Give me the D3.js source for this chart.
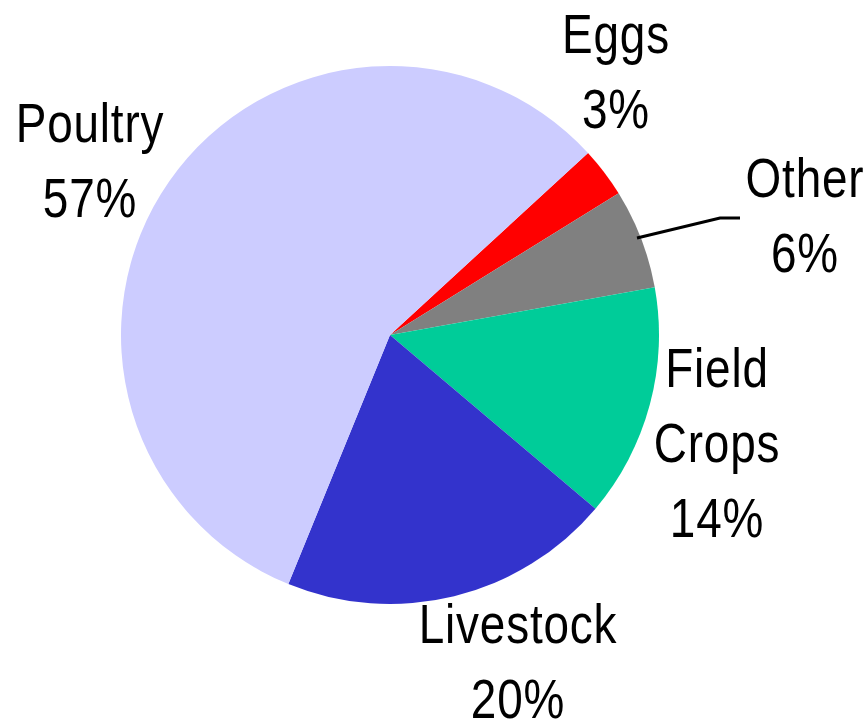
<!DOCTYPE html>
<html>
<head>
<meta charset="utf-8">
<script src="https://cdn.jsdelivr.net/npm/d3@7"></script>
<style>
  body { margin: 0; background: #fff; }
  .lbl { font-family: "Liberation Sans", Arial, sans-serif; font-size: 56px; letter-spacing: 1px; fill: #000; }
</style>
</head>
<body>
<svg id="chart" width="867" height="725"></svg>
<script>
// Data
const categories = ["Eggs", "Other", "Field Crops", "Livestock", "Poultry"];
const shares = [3, 6, 14, 20, 57];
const colors = ["#FF0000", "#808080", "#00CC99", "#3333CC", "#CCCCFF"];

// label lines and anchor positions (center x, first baseline y)
const labelLines = [["Eggs", "3%"], ["Other", "6%"], ["Field", "Crops", "14%"], ["Livestock", "20%"], ["Poultry", "57%"]];
const labelPos = [[616, 53], [805, 197], [717, 387], [518, 643], [90, 142]];

const svg = d3.select("#chart");
const cx = 390, cy = 335, radius = 269;

const pie = d3.pie()
    .sort(null)
    .value(d => d)
    .startAngle(47.4 * Math.PI / 180)
    .endAngle(47.4 * Math.PI / 180 + 2 * Math.PI);

const arc = d3.arc().innerRadius(0).outerRadius(radius);

const g = svg.append("g").attr("transform", "translate(" + cx + "," + cy + ")");

g.selectAll("path.slice")
    .data(pie(shares))
    .enter()
    .append("path")
    .attr("class", "slice")
    .attr("d", arc)
    .attr("fill", (d, i) => colors[i]);

// leader line for "Other"
svg.append("polyline")
    .attr("points", "637,238 720,218 740,218")
    .attr("fill", "none")
    .attr("stroke", "#000")
    .attr("stroke-width", 3);

// labels (condensed horizontally, like the narrow font in the original)
const lineH = 75;
labelLines.forEach(function (lines, i) {
    const t = svg.append("text")
        .attr("class", "lbl")
        .attr("text-anchor", "middle")
        .attr("transform", "translate(" + labelPos[i][0] + "," + labelPos[i][1] + ") scale(0.82,1)");
    lines.forEach(function (s, j) {
        t.append("tspan")
            .attr("x", 0)
            .attr("y", j * lineH)
            .text(s);
    });
});
</script>
</body>
</html>
